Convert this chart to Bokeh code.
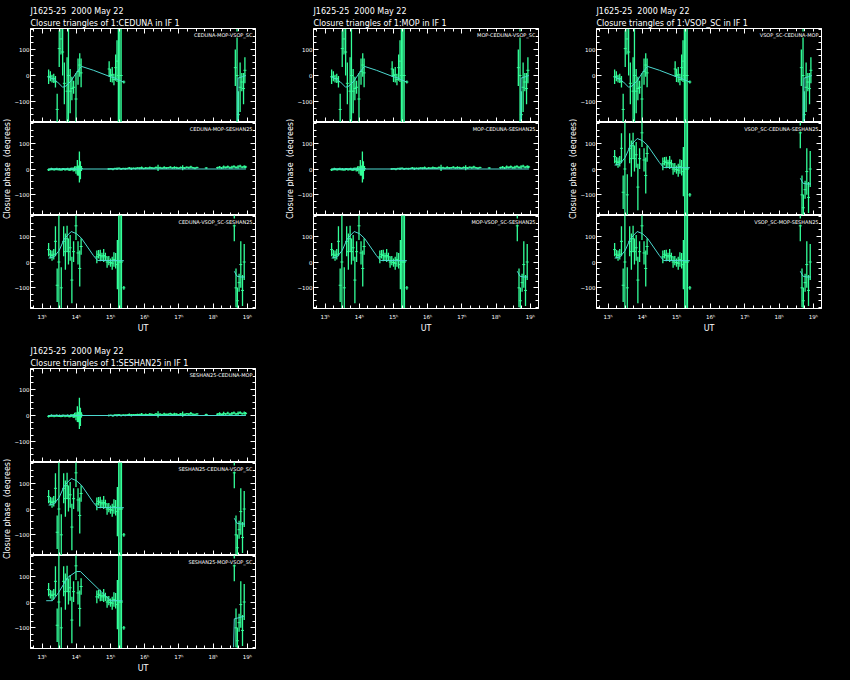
import numpy as np
from bokeh.plotting import figure
from bokeh.models import FixedTicker, LinearAxis, Range1d, Title, Label, ColumnDataSource
from bokeh.layouts import column, row
from bokeh.embed import file_html
from bokeh.resources import INLINE

# ---------------- data ----------------
SOURCE = "J1625-25\u00a0 2000 May 22"
REF_ANTENNAS = ["CEDUNA", "MOP", "VSOP_SC", "SESHAN25"]
TRIANGLES = [
    ["CEDUNA-MOP-VSOP_SC", "CEDUNA-MOP-SESHAN25", "CEDUNA-VSOP_SC-SESHAN25"],
    ["MOP-CEDUNA-VSOP_SC", "MOP-CEDUNA-SESHAN25", "MOP-VSOP_SC-SESHAN25"],
    ["VSOP_SC-CEDUNA-MOP", "VSOP_SC-CEDUNA-SESHAN25", "VSOP_SC-MOP-SESHAN25"],
    ["SESHAN25-CEDUNA-MOP", "SESHAN25-CEDUNA-VSOP_SC", "SESHAN25-MOP-VSOP_SC"],
]
KINDS = [["A", "C", "B"], ["A", "C", "B"], ["A", "B", "B"], ["C", "B", "B2"]]

HOUR_TICKS = [13, 14, 15, 16, 17, 18, 19]
HOUR_LABELS = ["13ʰ", "14ʰ", "15ʰ", "16ʰ", "17ʰ", "18ʰ", "19ʰ"]
PHASE_TICKS = [-100, 0, 100]
Y_TITLE = "Closure phase\u00a0 (degrees)"
X_TITLE = "UT"

# triangle type A (contains VSOP, baselines CEDUNA/MOP)
A_t = [13.19, 13.24, 13.29, 13.34, 13.39, 13.44, 13.50, 13.55, 13.60, 13.65,
       13.73, 13.77, 13.82, 13.87, 13.92, 13.99, 14.05, 14.10, 14.14,
       14.96, 15.00, 15.05, 15.10, 15.15, 15.19, 15.23, 15.27, 15.31, 15.39,
       18.65, 18.70, 18.74, 18.79, 18.84, 18.89, 18.93]
A_v = [-5, -3, -12, -11, -24, -130, 103, 140, 90, -30,
       -60, 0, -60, -50, -45, -90, 15, 40, 10,
       25, 0, 3, -15, 30, 55, 0, 0, 0, -25,
       30, 0, -150, -45, -25, -50, 20]
A_e = [28, 19, 15, 18, 22, 60, 70, 60, 90, 80,
       130, 250, 85, 45, 25, 100, 50, 45, 55,
       30, 25, 30, 22, 50, 80, 250, 250, 250, 6,
       70, 250, 90, 95, 35, 60, 50]
A_model_t = [[13.19, 13.30, 13.45, 13.60, 13.70, 13.85, 14.00, 14.15, 14.50, 15.00, 15.10, 15.20, 15.39],
             [18.72, 18.73, 18.85, 18.96]]
A_model_v = [[-5, -12, -25, -45, -40, -20, 10, 35, 20, -5, -8, -15, -25],
             [-175, -10, -5, 0]]

# triangle type B (VSOP + SESHAN25)
B_t = [13.19, 13.24, 13.29, 13.34, 13.39, 13.44, 13.49, 13.56, 13.63, 13.68,
       13.73, 13.77, 13.82, 13.87, 13.92, 13.99, 14.05, 14.10, 14.14,
       14.60, 14.65, 14.70, 14.75, 14.80, 14.85, 14.90, 14.95, 15.00, 15.05,
       15.10, 15.15, 15.20, 15.24, 15.28, 15.32, 15.39,
       18.62, 18.67, 18.71, 18.76, 18.81, 18.86, 18.91]
B_v = [48, 30, 25, 30, 80, -90, 0, -100, 80, 40,
       90, 40, 55, -70, 40, 140, 35, -25, 60,
       20, 30, 25, 20, 25, 20, 0, 5, -2, -5,
       10, 5, -10, 0, 0, 0, -100,
       140, -100, -150, -80, -10, -110, 0]
B_e = [26, 16, 20, 20, 58, 65, 250, 80, 58, 70,
       50, 50, 50, 90, 40, 55, 45, 70, 32,
       25, 16, 22, 16, 25, 16, 22, 18, 16, 25,
       28, 30, 95, 250, 250, 250, 7,
       60, 75, 50, 35, 90, 60, 70]
B_model_t = [[13.19, 13.35, 13.50, 13.65, 13.85, 14.00, 14.15, 14.50, 14.62, 15.39],
             [18.62, 18.70, 18.80, 18.93]]
B_model_v = [[15, 20, 45, 90, 118, 110, 92, 25, 6, 5],
             [-36, -55, -58, -58]]
B2_model_t = [[13.12, 13.30, 13.45, 13.75, 14.00, 14.12, 15.00, 15.35],
              [18.60, 18.62, 18.72, 18.90]]
B2_model_v = [[5, 5, 30, 95, 118, 118, 5, 5],
              [-175, -65, -62, -55]]

# triangle type C (no VSOP: closure phase near zero)
C_t = [13.19, 13.23, 13.27, 13.31, 13.35, 13.39, 13.43, 13.47, 13.51, 13.55,
       13.59, 13.63, 13.67, 13.71, 13.75, 13.79, 13.83, 13.87, 13.91, 13.95,
       13.99, 14.03, 14.06, 14.09, 14.12, 14.15,
       14.95, 15.01, 15.07, 15.13, 15.19, 15.25, 15.31, 15.37, 15.43, 15.49,
       15.55, 15.61, 15.67, 15.73, 15.79, 15.85, 15.91, 15.97, 16.03, 16.09,
       16.15, 16.21, 16.27, 16.33, 16.39, 16.45, 16.51, 16.57, 16.63, 16.69,
       16.75, 16.81, 16.87, 16.93, 16.99, 17.05, 17.11, 17.17, 17.23, 17.29,
       17.35, 17.41, 17.47, 17.53,
       17.80, 18.13, 18.19, 18.25, 18.31, 18.37, 18.43, 18.49, 18.55, 18.61,
       18.67, 18.73, 18.79, 18.85, 18.91, 18.95]
C_v = [-3, -2, 0, -1, -2, -1, 0, -2, -1, -3,
       -1, 0, -2, -1, 0, -3, -1, 0, -2, 1,
       -3, 5, -6, 8, -5, 2,
       0, 1, -1, 2, 1, 3, 0, 2, 1, 2,
       4, 1, 3, 2, 4, 3, 5, 2, 4, 3,
       5, 4, 3, 6, 4, 5, 3, 6, 4, 5,
       7, 4, 6, 5, 3, 6, 5, 4, 7, 5,
       8, 5, 3, 6,
       4, 5, 7, 4, 8, 6, 9, 5, 7, 10,
       6, 8, 11, 7, 9, 8]
C_e = [5, 4, 5, 4, 5, 4, 5, 4, 5, 4,
       5, 4, 5, 4, 5, 5, 6, 6, 8, 10,
       15, 30, 20, 60, 35, 10,
       4, 3, 4, 3, 5, 3, 4, 3, 4, 3,
       4, 5, 3, 4, 3, 4, 5, 3, 4, 3,
       5, 4, 3, 4, 12, 4, 3, 5, 4, 3,
       4, 3, 5, 4, 3, 4, 10, 4, 3, 4,
       5, 3, 4, 3,
       3, 4, 5, 4, 6, 4, 5, 4, 6, 5,
       4, 7, 5, 4, 6, 5]
C_model_t = [[13.19, 18.96]]
C_model_v = [[0, 0]]

SERIES = {
    "A": (A_t, A_v, A_e, A_model_t, A_model_v),
    "B": (B_t, B_v, B_e, B_model_t, B_model_v),
    "B2": (B_t, B_v, B_e, B2_model_t, B2_model_v),
    "C": (C_t, C_v, C_e, C_model_t, C_model_v),
}

# ---------------- style ----------------
GREEN = "#33ff99"
CYAN = "#4cd9d0"
WHITE = "#ffffff"
FONT = "DejaVu Sans"
X_RANGE = (12.66, 19.24)
Y_RANGE = (-180, 180)
X_MINOR = [12.75 + 0.25 * i for i in range(26)]
Y_MINOR = [-175 + 25 * i for i in range(15)]

LEFT = 13          # left border of each panel (tick labels)
LABEL_W = 11       # strip holding the rotated y title
FRAME_H = [94, 93, 93]
TOP_BORDER = 28


def style_axis(ax, ticks, minor, labels, standoff=1):
    ax.ticker = FixedTicker(ticks=ticks, minor_ticks=minor)
    ax.axis_line_color = WHITE
    ax.axis_line_width = 1
    ax.major_tick_line_color = WHITE
    ax.minor_tick_line_color = WHITE
    ax.major_tick_in = 5
    ax.major_tick_out = 0
    ax.minor_tick_in = 3
    ax.minor_tick_out = 0
    ax.major_label_text_font = FONT
    ax.major_label_text_font_size = "5.5px"
    if labels:
        ax.major_label_text_color = WHITE
        ax.major_label_standoff = standoff
    else:
        ax.major_label_text_color = None
        ax.major_label_standoff = 0
    ax.axis_label_text_color = WHITE
    ax.axis_label_text_font = FONT
    ax.axis_label_text_font_size = "8px"
    ax.axis_label_text_font_style = "normal"
    ax.axis_label_standoff = 1


def make_title(text):
    t = Title(text=text, align="left", text_color=WHITE, text_font=FONT,
              text_font_size="8px", text_font_style="normal")
    if "standoff" in t.properties():
        t.standoff = 1
    if "offset" in t.properties():
        t.offset = 0
    return t


def subpanel(kind, tri, width, height, rb, tb, bb, titles=None, xlabels=False):
    p = figure(width=width, height=height, title=None,
               x_range=Range1d(*X_RANGE), y_range=Range1d(*Y_RANGE),
               output_backend="svg", toolbar_location=None,
               min_border_left=LEFT, min_border_right=rb,
               min_border_top=tb, min_border_bottom=bb,
               background_fill_color="black", border_fill_color="black",
               outline_line_color=WHITE, outline_line_width=1)
    p.xgrid.visible = False
    p.ygrid.visible = False
    style_axis(p.xaxis[0], HOUR_TICKS, X_MINOR, xlabels, standoff=5)
    if xlabels:
        p.xaxis[0].major_label_overrides = dict(zip(HOUR_TICKS, HOUR_LABELS))
        p.xaxis[0].axis_label = X_TITLE
    style_axis(p.yaxis[0], PHASE_TICKS, Y_MINOR, True)
    ra = LinearAxis()
    style_axis(ra, PHASE_TICKS, Y_MINOR, False)
    p.add_layout(ra, "right")
    if titles:
        ta = LinearAxis()
        style_axis(ta, HOUR_TICKS, X_MINOR, False)
        p.add_layout(ta, "above")
        p.add_layout(make_title(titles[1]), "above")
        p.add_layout(make_title(titles[0]), "above")

    t, v, e, mts, mvs = SERIES[kind]
    t = np.array(t, dtype=float)
    v = np.array(v, dtype=float)
    e = np.array(e, dtype=float)
    src = ColumnDataSource(dict(t=t, v=v, lo=v - e, hi=v + e))
    p.segment(x0="t", y0="lo", x1="t", y1="hi", source=src,
              line_color=GREEN, line_width=1.3)
    p.scatter(x="t", y="v", source=src, marker="dash", size=3,
              line_color=GREEN, line_width=1)
    for mt, mv in zip(mts, mvs):
        p.line(mt, mv, line_color=CYAN, line_width=1)

    p.add_layout(Label(x=X_RANGE[1], y=Y_RANGE[1], x_offset=-3, y_offset=-3,
                       text=tri, text_align="right", text_baseline="top",
                       text_color=WHITE, text_font=FONT, text_font_size="5px",
                       background_fill_color="black"))
    return p


def ylabel_strip(height):
    f = figure(width=LABEL_W, height=height, title=None,
               x_range=Range1d(0, LABEL_W), y_range=Range1d(0, height),
               output_backend="svg", toolbar_location=None,
               x_axis_location=None, y_axis_location=None,
               min_border=0, outline_line_color=None,
               background_fill_color="black", border_fill_color="black")
    f.grid.visible = False
    yc = height - (TOP_BORDER + FRAME_H[0] + FRAME_H[1] / 2.0)
    f.add_layout(Label(x=7, y=yc, text=Y_TITLE, angle=np.pi / 2,
                       text_align="center", text_baseline="middle",
                       text_color=WHITE, text_font=FONT, text_font_size="8px"))
    return f


def group(i, width, rb, bottom_border):
    titles = [SOURCE, "Closure triangles of 1:%s in IF 1" % REF_ANTENNAS[i]]
    kinds = KINDS[i]
    tris = TRIANGLES[i]
    w = width - LABEL_W
    h1 = TOP_BORDER + FRAME_H[0]
    h3 = FRAME_H[2] + bottom_border
    p1 = subpanel(kinds[0], tris[0], w, h1, rb, TOP_BORDER, 0, titles=titles)
    p2 = subpanel(kinds[1], tris[1], w, FRAME_H[1], rb, 0, 0)
    p3 = subpanel(kinds[2], tris[2], w, h3, rb, 0, bottom_border, xlabels=True)
    total = h1 + FRAME_H[1] + h3
    return row(ylabel_strip(total), column(p1, p2, p3, spacing=0), spacing=0)


row1 = row(group(0, 283, 28, 32), group(1, 283, 28, 32), group(2, 281, 26, 32), spacing=0)
row2 = row(group(3, 283, 28, 30), spacing=0)
layout = column(row1, row2, spacing=0, background="black")

html = file_html(layout, INLINE, title="Closure phases J1625-25")
html = html.replace("</head>", "<style>body{background:#000000;}</style></head>", 1)
open("out.html", "w").write(html)
